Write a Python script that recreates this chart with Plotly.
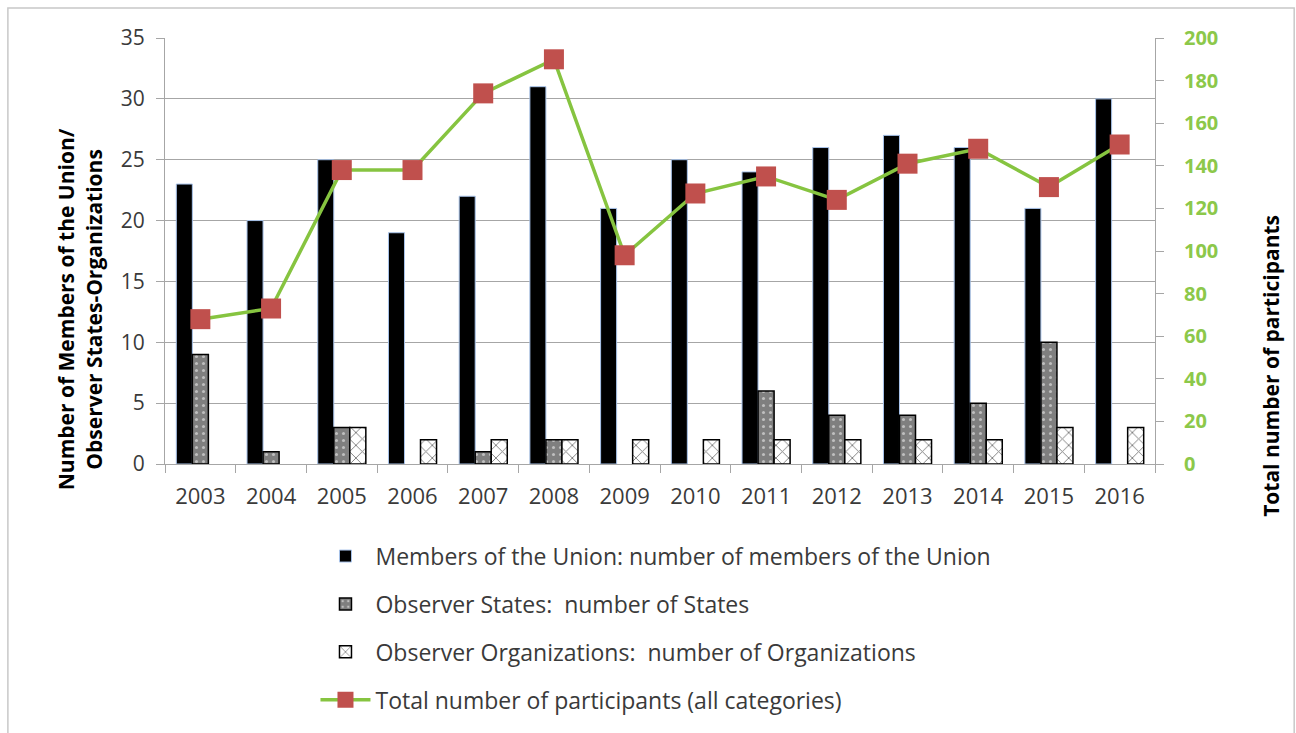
import plotly.graph_objects as go

years = ["2003", "2004", "2005", "2006", "2007", "2008", "2009",
         "2010", "2011", "2012", "2013", "2014", "2015", "2016"]
members = [23, 20, 25, 19, 22, 31, 21, 25, 24, 26, 27, 26, 21, 30]
obs_states = [9, 1, 3, 0, 1, 2, 0, 0, 6, 4, 4, 5, 10, 0]
obs_orgs = [0, 0, 3, 2, 2, 2, 2, 2, 2, 2, 2, 2, 3, 3]
total = [68, 73, 138, 138, 174, 190, 98, 127, 135, 124, 141, 148, 130, 150]

names = [
    "Members of the Union: number of members of the Union",
    "Observer States:  number of States",
    "Observer Organizations:  number of Organizations",
    "Total number of participants (all categories)",
]

FONT = "'Open Sans', 'Liberation Sans', sans-serif"
TXT = "#3a3a3a"
GREEN = "#86c440"
GREEN_TXT = "#8cc84a"
RED = "#c0504d"
GRID = "#a6a6a6"


def nz(vals):
    return [v if v else None for v in vals]


fig = go.Figure()
fig.add_trace(go.Bar(
    x=years, y=nz(members), name=names[0], legendgroup="a",
    marker=dict(color="black", line=dict(color="#a9c4eb", width=1)),
))
fig.add_trace(go.Bar(
    x=years, y=nz(obs_states), name=names[1], legendgroup="b",
    marker=dict(color="#7f7f7f", line=dict(color="black", width=1.5),
                pattern=dict(shape=".", fgcolor="white", bgcolor="#7f7f7f",
                             size=7, solidity=0.15)),
))
fig.add_trace(go.Bar(
    x=years, y=nz(obs_orgs), name=names[2], legendgroup="c",
    marker=dict(color="white", line=dict(color="black", width=1.5),
                pattern=dict(shape="x", fgcolor="black", bgcolor="white",
                             size=9, solidity=0.2)),
))
fig.add_trace(go.Scatter(
    x=years, y=total, name=names[3], legendgroup="d", yaxis="y2",
    mode="lines+markers",
    line=dict(color=GREEN, width=3.5),
    marker=dict(symbol="square", size=20, color=RED),
))

fig.update_layout(
    width=1296, height=733,
    margin=dict(l=165, r=141, t=38, b=268),
    paper_bgcolor="white", plot_bgcolor="white",
    font=dict(family=FONT, size=20, color=TXT),
    barmode="group", bargap=0.32, bargroupgap=0,
    showlegend=True,
    legend=dict(
        x=0.152, y=-0.163, xanchor="left", yanchor="top",
        orientation="v", traceorder="grouped",
        font=dict(family=FONT, size=23, color=TXT),
        tracegroupgap=15, itemwidth=50,
        bgcolor="rgba(0,0,0,0)",
    ),
    xaxis=dict(
        type="category", range=[-0.5, 13.5], showgrid=False, showline=True,
        linecolor=GRID, linewidth=1, ticks="outside", tickson="boundaries",
        ticklen=8, tickcolor=GRID, tickfont=dict(size=22, color=TXT),
        ticklabelstandoff=13,
    ),
    yaxis=dict(
        range=[0, 35], dtick=5, showgrid=True, gridcolor=GRID, gridwidth=1,
        showline=True, linecolor=GRID, ticks="outside", ticklen=8,
        tickcolor=GRID, tickfont=dict(size=21, color=TXT), zeroline=False,
        ticklabelstandoff=7,
    ),
    yaxis2=dict(
        range=[0, 200], dtick=20, overlaying="y", side="right",
        showgrid=False, showline=True, linecolor=GRID, ticks="outside",
        ticklen=8, tickcolor=GRID, zeroline=False, ticklabelstandoff=16,
        tickfont=dict(size=20, color=GREEN_TXT, weight="bold"),
    ),
    annotations=[
        dict(text="<b>Number of Members of the Union/<br>Observer States-Organizations</b>",
             xref="paper", yref="paper", x=-0.086, y=0.363, textangle=-90,
             xanchor="center", yanchor="middle",
             showarrow=False, font=dict(family=FONT, size=21, color="black"),
             align="center"),
        dict(text="<b>Total number of participants</b>",
             xref="paper", yref="paper", x=1.117, y=0.23, textangle=-90,
             xanchor="center", yanchor="middle",
             showarrow=False, font=dict(family=FONT, size=21, color="black")),
    ],
    shapes=[
        dict(type="rect", xref="paper", yref="paper",
             x0=-0.1587, x1=1.1406, y0=-0.66, y1=1.0703,
             line=dict(color="#c8c8c8", width=1.5), fillcolor="rgba(0,0,0,0)",
             layer="below"),
    ],
)

fig.write_html("out.html")
